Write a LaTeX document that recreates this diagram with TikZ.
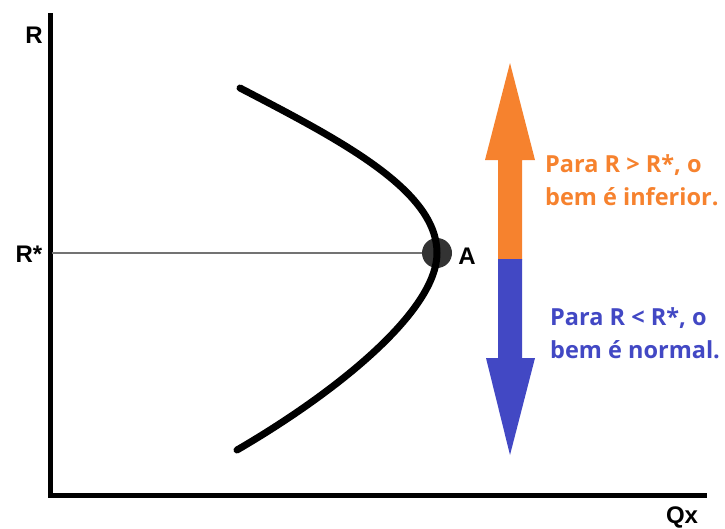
\documentclass[tikz,border=0pt]{standalone}
\usepackage{fontspec}
\setmainfont{Liberation Sans}
\newfontfamily\notefont{Open Sans}
\usepackage{tikz}
\usetikzlibrary{calc,positioning}
\definecolor{infc}{RGB}{246,130,46}
\definecolor{normc}{RGB}{66,72,196}
\tikzset{
  axis/.style={line width=5pt,black},
  curve/.style={line width=7pt,black,line cap=round},
  ref/.style={line width=2pt,black!55},
  lbl/.style={font=\fontsize{24}{26}\selectfont\bfseries,inner sep=0pt},
  pt/.style={circle,fill=black!80,minimum width=30pt,minimum height=28pt,inner sep=0pt},
  note/.style={font=\notefont\fontsize{23.5}{33}\selectfont\bfseries,align=left,inner sep=0pt,anchor=west},
}
\begin{document}
\begin{tikzpicture}[x=1pt,y=-1pt]
  \useasboundingbox (0,0) rectangle (725,528);
  \coordinate (O) at (50,495); \coordinate (Ytop) at (50,13); \coordinate (Xend) at (707,495);
  \draw[axis] (Ytop) -- (O) -- (Xend);
  \node[lbl] (R) at (34,35) {R}; \node[lbl] (Qx) at (682,517) {Qx};
  \node[lbl] (Rs) at (29,254) {R*};
  % engel curve and point A
  \coordinate (Rl) at (52,253);
  \node[pt] (A) at (437,253) {};
  \draw[ref] (Rl) -- (A);
  \draw[curve] (240,88) .. controls (340,140) and (437,190) .. (A.center)
                         .. controls (437,310) and (340,390) .. (237,450);
  \node[lbl] (Al) at (467,256) {A};
  % double arrow
  \fill[infc] (510,63) -- (535,160) -- (522,160) -- (522,260) -- (498,260) -- (498,160) -- (485,160) -- cycle;
  \fill[normc] (510,455) -- (535,358) -- (522,358) -- (522,259) -- (498,259) -- (498,358) -- (486,358) -- cycle;
  \node[note,text=infc] (up) at (545,180) {Para R > R*, o\\bem é inferior.};
  \node[note,text=normc] (dn) at (550,333) {Para R < R*, o\\bem é normal.};
\end{tikzpicture}
\end{document}
